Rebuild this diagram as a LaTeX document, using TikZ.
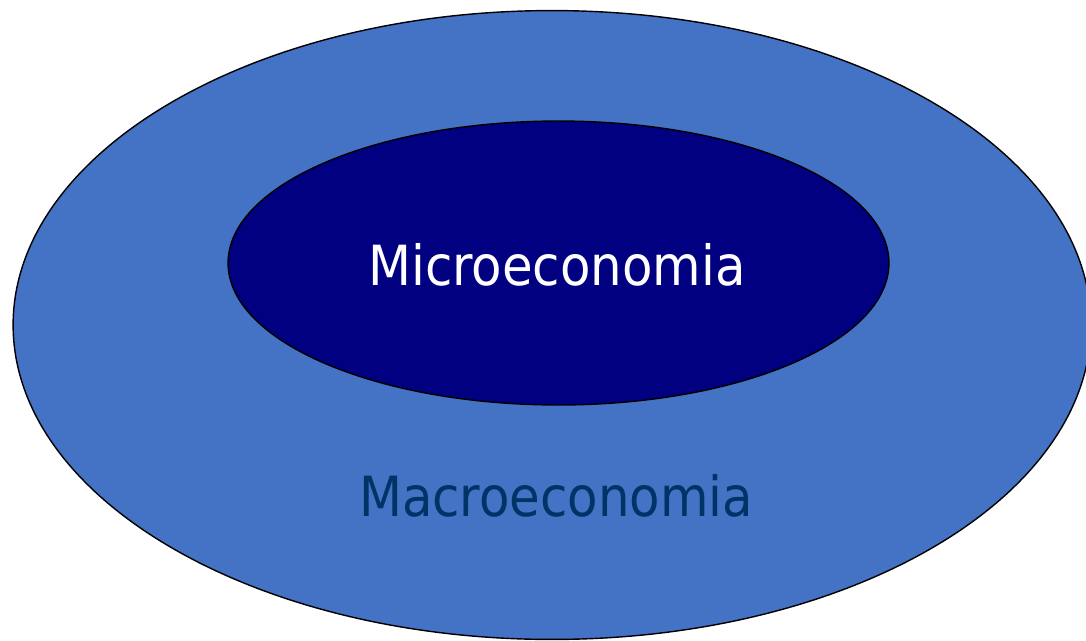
\documentclass[tikz,border=0pt]{standalone}
\usepackage{fontspec}
\setmainfont{DejaVu Sans Condensed}
\usetikzlibrary{shapes.geometric}
\definecolor{outerblue}{HTML}{4472C4}
\definecolor{innernavy}{HTML}{000080}
\definecolor{macrotext}{HTML}{003366}
\begin{document}
\begin{tikzpicture}[x=0.02cm, y=-0.02cm]
  \useasboundingbox (0,0) rectangle (1086,640);
  \node[draw, ellipse, fill=outerblue, line width=0.8pt, inner sep=0pt, minimum width=21.56cm, minimum height=12.58cm] (macro) at (552,325) {};
  \node[draw, ellipse, fill=innernavy, line width=0.8pt, inner sep=0pt, minimum width=13.22cm, minimum height=5.68cm] (micro) at (558.5,263) {};
  \node[anchor=base, text=white, font=\fontsize{31.5pt}{36pt}\selectfont, inner sep=0pt] (microlabel) at (557,285) {Microeconomia};
  \node[anchor=base, text=macrotext, font=\fontsize{31.5pt}{36pt}\selectfont, inner sep=0pt] (macrolabel) at (556,516) {Macroeconomia};
\end{tikzpicture}
\end{document}
